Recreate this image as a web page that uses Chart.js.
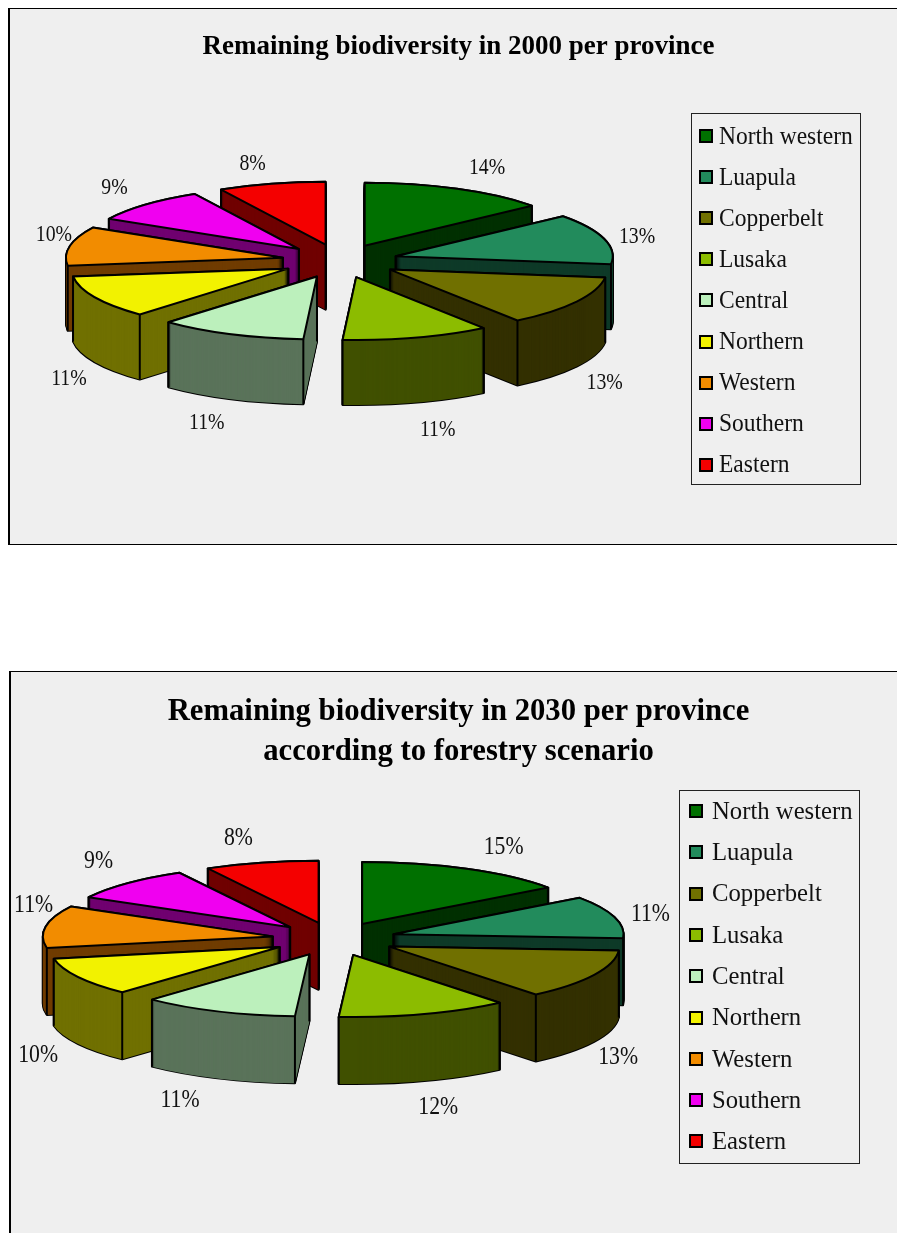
<!DOCTYPE html>
<html>
<head>
<meta charset="utf-8">
<script src="https://cdn.jsdelivr.net/npm/chart.js@4"></script>
<style>
  html, body { margin: 0; padding: 0; background: #fff; width: 897px; height: 1233px; overflow: hidden; }
  .frame { position: absolute; box-sizing: border-box; background: #efefef; border: 1px solid #000; }
  canvas { display: block; }
</style>
</head>
<body>
<div class="frame" id="frame2000" style="left:8px;top:8px;width:900px;height:537px;border-left-width:2px"><canvas id="chart2000"></canvas></div>
<div class="frame" id="frame2030" style="left:9px;top:671px;width:898px;height:600px;border-left-width:2px"><canvas id="chart2030"></canvas></div>
<script>
// Province shares of remaining biodiversity, in percent
const provinces = ['North western', 'Luapula', 'Copperbelt', 'Lusaka', 'Central', 'Northern', 'Western', 'Southern', 'Eastern'];
const shares2000 = [14, 13, 13, 11, 11, 11, 10, 9, 8];
const shares2030 = [15, 11, 13, 12, 11, 10, 11, 9, 8];
const title2000 = 'Remaining biodiversity in 2000 per province';
const title2030 = ['Remaining biodiversity in 2030 per province', 'according to forestry scenario'];

const topColors = ['#007000', '#228b5c', '#707000', '#8cbc00', '#bcf0bc', '#f2f200', '#f28c00', '#f000f0', '#f40000'];
const wallColors = ['#003000', '#0e3a28', '#333000', '#405000', '#5a735a', '#707000', '#703c00', '#700070', '#700000'];

// Tilted-pie look: the slices keep the angles and radius the pie controller gives them;
// this plugin only projects them onto a flattened plane and extrudes them downward.
function project(arc, s, angle, dist) {
  const o = s.explode, mid = (arc.startAngle + arc.endAngle) / 2;
  return {
    x: s.cx + Math.cos(mid) * o + Math.cos(angle) * dist,
    y: s.cy + s.tilt * (Math.sin(mid) * o + Math.sin(angle) * dist)
  };
}

function tracePath(ctx, arc, s, dy) {
  const tip = project(arc, s, 0, 0);
  ctx.beginPath();
  ctx.moveTo(tip.x, tip.y + dy);
  ctx.ellipse(tip.x, tip.y + dy, arc.outerRadius, arc.outerRadius * s.tilt, 0, arc.startAngle, arc.endAngle);
  ctx.closePath();
}

function drawEdge(ctx, p, depth) {
  ctx.beginPath();
  ctx.moveTo(p.x, p.y);
  ctx.lineTo(p.x, p.y + depth);
  ctx.stroke();
}

// Text squeezed horizontally, the way the narrow serif of these charts sets
function squeezedText(ctx, text, x, y, squeeze) {
  ctx.save();
  ctx.translate(x, y);
  ctx.scale(squeeze, 1);
  ctx.fillText(text, 0, 0);
  ctx.restore();
}

const tiltedPie = {
  id: 'tiltedPie',
  beforeDatasetsDraw(chart, args, s) {
    const ctx = chart.ctx, arcs = chart.getDatasetMeta(0).data;
    // paint back to front
    const order = arcs.map((arc, i) => i).sort((a, b) => {
      const ma = (arcs[a].startAngle + arcs[a].endAngle) / 2, mb = (arcs[b].startAngle + arcs[b].endAngle) / 2;
      return Math.sin(ma) - Math.sin(mb);
    });
    ctx.save();
    ctx.lineJoin = 'round';
    order.forEach(i => {
      const arc = arcs[i];
      const a0 = arc.startAngle, a1 = arc.endAngle;
      // side walls: dark outline first, then the fill swept through the depth
      ctx.strokeStyle = '#000';
      ctx.lineWidth = 2;
      for (let dy = s.depth; dy >= 0; dy--) { tracePath(ctx, arc, s, dy); ctx.stroke(); }
      ctx.fillStyle = wallColors[i];
      for (let dy = s.depth; dy >= 0; dy--) { tracePath(ctx, arc, s, dy); ctx.fill(); }
      // vertical edges, only where a wall next to them faces the viewer
      const startFaces = Math.cos(a0) < -1e-6, endFaces = Math.cos(a1) > 1e-6;
      if (startFaces || Math.sin(a0) > 0) drawEdge(ctx, project(arc, s, a0, arc.outerRadius), s.depth);
      if (endFaces || Math.sin(a1) > 0) drawEdge(ctx, project(arc, s, a1, arc.outerRadius), s.depth);
      if (startFaces || endFaces) drawEdge(ctx, project(arc, s, 0, 0), s.depth);
      // top face
      tracePath(ctx, arc, s, 0);
      ctx.fillStyle = topColors[i];
      ctx.fill();
      ctx.stroke();
    });
    // percentage labels
    const values = chart.data.datasets[0].data;
    ctx.fillStyle = '#111';
    ctx.font = s.labelFont;
    ctx.textAlign = 'center';
    ctx.textBaseline = 'middle';
    arcs.forEach((arc, i) => {
      const mid = (arc.startAngle + arc.endAngle) / 2;
      const p = project(arc, s, mid, arc.outerRadius);
      squeezedText(ctx, values[i] + '%', p.x + s.labelNudge[i][0], p.y + s.labelNudge[i][1] + 2, s.labelSqueeze);
    });
    ctx.restore();
    return false;
  },
  afterDraw(chart, args, s) {
    // boxed legend
    const ctx = chart.ctx, g = s.legendBox;
    ctx.save();
    ctx.strokeStyle = '#222';
    ctx.lineWidth = 1;
    ctx.strokeRect(g.x + .5, g.y + .5, g.w, g.h);
    ctx.font = s.legendFont;
    ctx.textAlign = 'left';
    ctx.textBaseline = 'middle';
    chart.data.labels.forEach((name, i) => {
      const y = g.y + g.first + g.step * i;
      ctx.fillStyle = topColors[i];
      ctx.fillRect(g.x + g.swatchX, Math.round(y - g.swatch / 2), g.swatch, g.swatch);
      ctx.strokeStyle = '#000';
      ctx.lineWidth = 2;
      ctx.strokeRect(g.x + g.swatchX, Math.round(y - g.swatch / 2), g.swatch, g.swatch);
      ctx.fillStyle = '#111';
      squeezedText(ctx, name, g.x + g.textX, y + 1, g.squeeze);
    });
    ctx.restore();
  }
};

function buildChart(canvasId, frameId, values, titleText, style) {
  const frame = document.getElementById(frameId);
  const canvas = document.getElementById(canvasId);
  const W = frame.clientWidth, H = frame.clientHeight;
  canvas.width = W; canvas.height = H;
  canvas.style.width = W + 'px'; canvas.style.height = H + 'px';
  return new Chart(canvas, {
    type: 'pie',
    data: {
      labels: provinces,
      datasets: [{ data: values, backgroundColor: topColors, offset: style.explode, borderWidth: 0 }]
    },
    plugins: [tiltedPie],
    options: {
      responsive: false,
      animation: false,
      radius: style.radius,
      plugins: {
        legend: { display: false },
        tooltip: { enabled: false },
        title: {
          display: true,
          text: titleText,
          color: '#000',
          font: { family: '"Liberation Serif", serif', size: style.titleSize, weight: 'bold', lineHeight: style.titleLine },
          padding: { top: style.titleTop, bottom: 0 },
          fullSize: true
        },
        tiltedPie: style
      }
    }
  });
}

buildChart('chart2000', 'frame2000', shares2000, title2000, {
  cx: 330, cy: 252, radius: 217, explode: 58, tilt: 0.29, depth: 65,
  titleSize: 27, titleLine: 1.2, titleTop: 22,
  labelFont: '23px "Liberation Serif", serif', labelSqueeze: 0.86,
  labelNudge: [[30, -23], [33, -4], [28, 79], [21, 90], [-24, 87], [-26, 80], [-16, -13], [-31, -19], [-19, -22]],
  legendFont: '25px "Liberation Serif", serif',
  legendBox: { x: 681, y: 104, w: 169, h: 371, first: 23, step: 41.1, swatch: 12, swatchX: 9, textX: 28, squeeze: 0.94 }
});

buildChart('chart2030', 'frame2030', shares2030, title2030, {
  cx: 323, cy: 267, radius: 230, explode: 62, tilt: 0.27, depth: 67,
  titleSize: 30.7, titleLine: 1.3, titleTop: 20,
  labelFont: '25px "Liberation Serif", serif', labelSqueeze: 0.87,
  labelNudge: [[37, -23], [36, -5], [24, 81], [14, 91], [-38, 87], [-40, 76], [-12, -23], [-29, -24], [-23, -26]],
  legendFont: '26px "Liberation Serif", serif',
  legendBox: { x: 668, y: 118, w: 180, h: 373, first: 21, step: 41.3, swatch: 12, swatchX: 11, textX: 33, squeeze: 0.95 }
});
</script>
</body>
</html>
